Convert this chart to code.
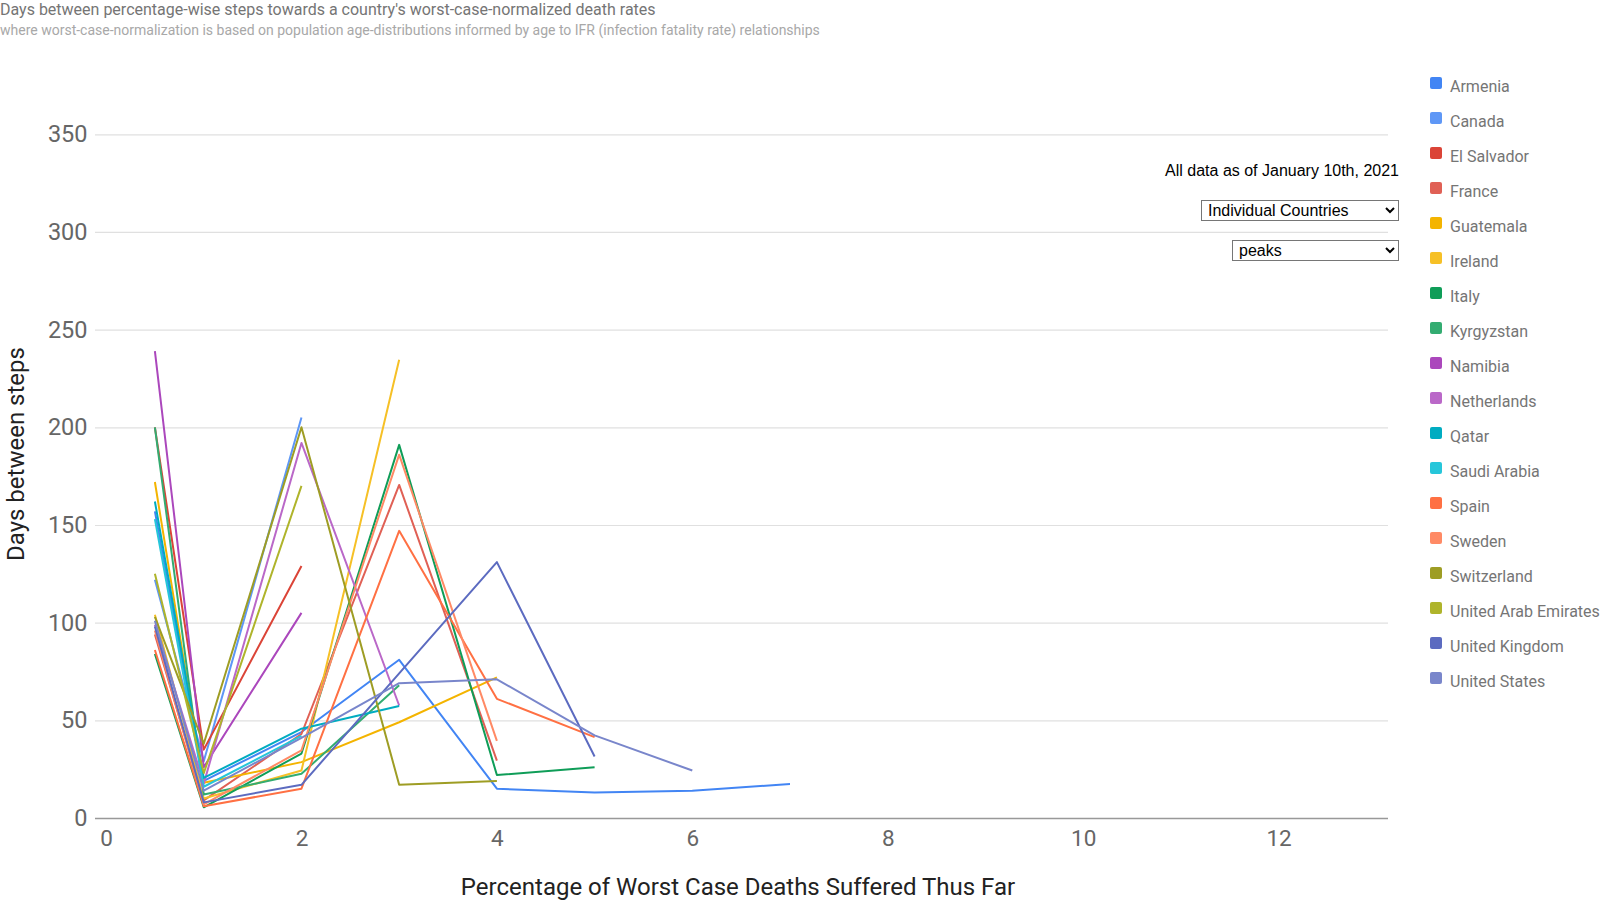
<!DOCTYPE html>
<html>
<head>
<meta charset="utf-8">
<script src="https://cdn.jsdelivr.net/npm/d3@7"></script>
<style>
  html, body { margin: 0; padding: 0; background: #fff; }
  #wrap { position: relative; width: 1600px; height: 900px; overflow: hidden; }
  #chart { position: absolute; left: 0; top: 0; }
  .ctrl { position: absolute; font-family: "Liberation Sans", Arial, sans-serif; font-size: 16px; color: #000; }
  select.ctrl { height: 21px; padding: 0 2px; border: 1px solid #767676; border-radius: 0; background: #fff; box-sizing: border-box; }
</style>
</head>
<body>
<div id="wrap">
  <svg id="chart" width="1600" height="900"></svg>
  <div class="ctrl" id="asof" style="right:201px; top:162px;">All data as of January 10th, 2021</div>
  <select class="ctrl" style="left:1201px; top:200px; width:198px;"><option>Individual Countries</option></select>
  <select class="ctrl" style="left:1232px; top:240px; width:167px;"><option>peaks</option></select>
</div>
<script>
const d3ref = window.d3;

// step positions on the x axis (percentage of worst case deaths)
const stepPercents = [0.5, 1, 2, 3, 4, 5, 6, 7];

// days between steps, one array per country
const armenia     = [157, 19, 44, 81, 15, 13, 14, 17.4];
const canada      = [122, 29, 205];
const elSalvador  = [200, 35, 129];
const france      = [94, 9, 43, 170.5, 29.4];
const guatemala   = [172, 18, 28.6, 49, 72];
const ireland     = [104, 10, 24.3, 234.6];
const italy       = [84, 5.5, 33, 191, 22, 26];
const kyrgyzstan  = [200, 12, 22.6, 68];
const namibia     = [239, 26, 105];
const netherlands = [99, 17.6, 192, 57.6];
const qatar       = [162, 20.5, 45.7, 57.3];
const saudiArabia = [153, 16, 42];
const spain       = [86, 6, 15, 147, 61, 41.4];
const sweden      = [96, 7, 34.6, 186, 39.5];
const switzerland = [103, 38, 200, 17, 19];
const uae         = [125, 23, 170];
const uk          = [98, 8, 17, 74, 131, 31.5];
const us          = [101, 14, 41, 69, 71, 42.3, 24.3];

const countryNames = ['Armenia', 'Canada', 'El Salvador', 'France', 'Guatemala', 'Ireland', 'Italy',
  'Kyrgyzstan', 'Namibia', 'Netherlands', 'Qatar', 'Saudi Arabia', 'Spain', 'Sweden', 'Switzerland',
  'United Arab Emirates', 'United Kingdom', 'United States'];
const countryValues = [armenia, canada, elSalvador, france, guatemala, ireland, italy,
  kyrgyzstan, namibia, netherlands, qatar, saudiArabia, spain, sweden, switzerland,
  uae, uk, us];
const countryColors = ['#4285f4', '#5e97f6', '#db4437', '#e06055', '#f4b400', '#f6c026', '#0f9d58',
  '#33ac71', '#ab47bc', '#ba68c8', '#00acc1', '#26c6da', '#ff7043', '#ff8a65', '#9e9d24',
  '#afb42b', '#5c6bc0', '#7986cb'];

const xTicks = [0, 2, 4, 6, 8, 10, 12];
const yTicks = [0, 50, 100, 150, 200, 250, 300, 350];

const svg = d3ref.select('#chart');
const font = 'Roboto, "Noto Sans", sans-serif';

const x = d3ref.scaleLinear().domain([-0.113, 13.12]).range([95, 1388]);
const y = d3ref.scaleLinear().domain([0, 350]).range([818, 134.3]);

// title + subtitle
svg.append('text').attr('x', 0).attr('y', 15)
  .attr('font-family', font).attr('font-size', 16).attr('fill', '#757575')
  .text("Days between percentage-wise steps towards a country's worst-case-normalized death rates");
svg.append('text').attr('x', 0).attr('y', 35)
  .attr('font-family', font).attr('font-size', 14).attr('fill', '#a8a8a8')
  .text('where worst-case-normalization is based on population age-distributions informed by age to IFR (infection fatality rate) relationships');

// gridlines
const yAxis = d3ref.axisLeft(y).tickValues(yTicks).tickSize(-(1388 - 95)).tickPadding(8).tickFormat(d3ref.format('d'));
const gy = svg.append('g').attr('transform', 'translate(95,0)').call(yAxis);
gy.select('.domain').remove();
gy.selectAll('.tick line').attr('stroke', d => d === 0 ? '#999' : '#e0e0e0').attr('stroke-width', d => d === 0 ? 1.3 : 1.2);
gy.selectAll('.tick text').attr('font-family', font).attr('font-size', 23.5).attr('fill', '#666').attr('x', -7.5);

const xAxis = d3ref.axisBottom(x).tickValues(xTicks).tickSize(0).tickPadding(12);
const gx = svg.append('g').attr('transform', 'translate(0,818)').call(xAxis);
gx.select('.domain').remove();
gx.selectAll('.tick text').attr('font-family', font).attr('font-size', 22.5).attr('fill', '#666');

// axis titles
svg.append('text').attr('x', 738).attr('y', 895).attr('text-anchor', 'middle')
  .attr('font-family', font).attr('font-size', 24).attr('fill', '#222')
  .text('Percentage of Worst Case Deaths Suffered Thus Far');
svg.append('text').attr('transform', 'translate(24,454) rotate(-90)').attr('text-anchor', 'middle')
  .attr('font-family', font).attr('font-size', 24).attr('fill', '#222')
  .text('Days between steps');

// lines
const line = d3ref.line().x((d, i) => x(stepPercents[i])).y(d => y(d));
svg.append('g').selectAll('path')
  .data(countryValues)
  .join('path')
  .attr('d', d => line(d))
  .attr('fill', 'none')
  .attr('stroke', (d, i) => countryColors[i])
  .attr('stroke-width', 2)
  .attr('stroke-linejoin', 'round');

// legend
const legend = svg.append('g').attr('transform', 'translate(1430,77)');
const item = legend.selectAll('g').data(countryNames).join('g')
  .attr('transform', (d, i) => `translate(0,${i * 35})`);
item.append('rect').attr('width', 12).attr('height', 12).attr('rx', 2)
  .attr('fill', (d, i) => countryColors[i]);
item.append('text').attr('x', 20).attr('y', 14.5)
  .attr('font-family', font).attr('font-size', 16).attr('fill', '#757575')
  .text(d => d);
</script>
</body>
</html>
